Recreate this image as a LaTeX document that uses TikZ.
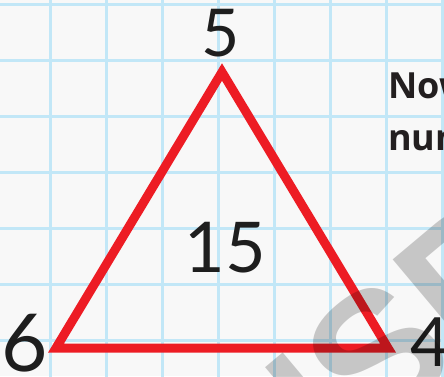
\documentclass[tikz,border=0pt]{standalone}
\usepackage{fontspec}
\setmainfont{Lato}
\newfontfamily\wmfont{Liberation Sans}
\newfontfamily\headfont{Open Sans}
\definecolor{bgcol}{HTML}{F8F8F8}
\definecolor{gridcol}{HTML}{C2E7F7}
\definecolor{tricol}{HTML}{ED1C24}
\definecolor{inkcol}{HTML}{1E1E1E}
\definecolor{headcol}{HTML}{231F20}
\tikzset{
  gridline/.style={draw=gridcol, line width=3pt},
  tri/.style={draw=tricol, line width=9pt, line join=miter},
  digit/.style={inner sep=0pt, text=inkcol},
  heading/.style={inner sep=0pt, text=headcol, font=\headfont\bfseries\fontsize{36}{36}\selectfont},
  wm/.style={inner sep=0pt, text=black, text opacity=0.2, font=\wmfont\bfseries\fontsize{180}{180}\selectfont}
}
\begin{document}
\begin{tikzpicture}[x=1pt,y=-1pt]
\useasboundingbox (0,0) rectangle (444,376);
\clip (0,0) rectangle (444,376);
\fill[bgcol] (0,0) rectangle (444,376);
\foreach \x in {50,106,...,442} \draw[gridline] (\x,-5) -- (\x,381);
\foreach \y in {4,60,...,340} \draw[gridline] (-5,\y) -- (449,\y);
\coordinate (top) at (222,72);
\coordinate (left) at (56,348);
\coordinate (right) at (388,348);
\draw[tri] (left) -- (top) -- (right) -- cycle;
\node[digit, font=\fontsize{66}{66}\selectfont] (n5) at (221,33) {5};
\node[digit, font=\fontsize{70}{70}\selectfont] (n15) at (225,248) {15};
\node[digit, font=\fontsize{80}{80}\selectfont] (n6) at (25,343) {6};
\node[digit, font=\fontsize{68}{68}\selectfont, anchor=west] (n4) at (410,342) {4};
\node[heading, anchor=base west] (now) at (388,98) {Now};
\node[heading, anchor=base west] (num) at (388,150) {num};
\node[wm, rotate=40] (wm) at (378,354) {\llap{IN}S\rlap{PECTION COPY}};
\end{tikzpicture}
\end{document}
